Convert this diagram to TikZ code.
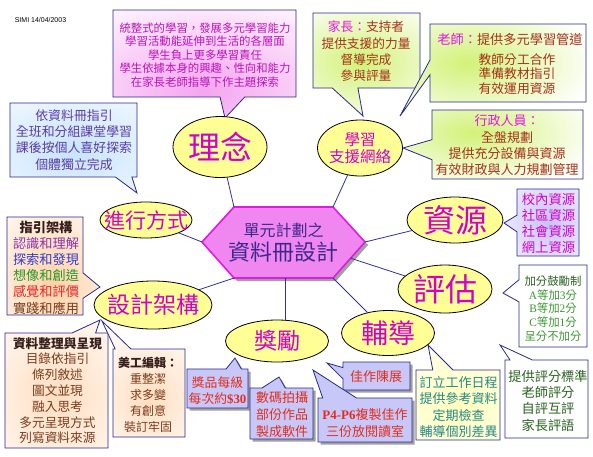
\documentclass[tikz,border=0pt]{standalone}
\usepackage{fontspec}
\setmainfont{Noto Sans CJK TC}
\newfontfamily\serf{Liberation Serif}
\newfontfamily\arialf{Liberation Sans}
\usetikzlibrary{shapes.geometric,calc}
\definecolor{boxline}{RGB}{40,40,140}
\definecolor{connc}{RGB}{50,50,150}
\definecolor{ellfill}{RGB}{255,255,150}
\definecolor{ellfont}{RGB}{210,0,200}
\definecolor{lntxt}{RGB}{185,20,185}
\definecolor{hilite}{RGB}{230,20,230}
\definecolor{brred}{RGB}{165,50,25}
\definecolor{pinkg}{RGB}{245,165,240}
\definecolor{greeng}{RGB}{210,242,120}
\definecolor{lavg}{RGB}{200,195,250}
\definecolor{blueg}{RGB}{200,228,255}
\definecolor{orangeg}{RGB}{255,210,168}
\definecolor{peachg}{RGB}{255,222,192}
\definecolor{yellowg}{RGB}{255,255,190}
\definecolor{lavbox}{RGB}{200,200,248}
\definecolor{redtxt}{RGB}{225,45,30}
\definecolor{tealtxt}{RGB}{40,135,135}
\definecolor{grtxt}{RGB}{60,150,50}
\definecolor{dgrtxt}{RGB}{40,100,30}
\definecolor{bltxt}{RGB}{90,60,165}
\definecolor{brtxt}{RGB}{120,60,30}
\definecolor{darkt}{RGB}{55,30,30}
\definecolor{hexfill}{RGB}{240,135,240}
\definecolor{hexline}{RGB}{225,25,225}
\definecolor{hextxt}{RGB}{60,40,140}
\definecolor{shadowc}{RGB}{160,160,160}
\definecolor{purtxt}{RGB}{140,50,170}
\definecolor{blutxt}{RGB}{50,60,200}
\definecolor{gretxt}{RGB}{40,150,40}
\definecolor{rettxt}{RGB}{225,40,40}
\newcommand\fs[2]{\fontsize{#1}{#2}\selectfont}
\newcommand\callB[5]{\draw[#5] (#1.north west) -- (#1.north east) -- (#1.south east)
  -- ($(#1.south west)!#3!(#1.south east)$) -- (#4) -- ($(#1.south west)!#2!(#1.south east)$)
  -- (#1.south west) -- cycle;}
\newcommand\callT[5]{\draw[#5] (#1.north west) -- ($(#1.north west)!#2!(#1.north east)$) -- (#4)
  -- ($(#1.north west)!#3!(#1.north east)$) -- (#1.north east) -- (#1.south east) -- (#1.south west) -- cycle;}
\newcommand\callL[5]{\draw[#5] (#1.north west) -- (#1.north east) -- (#1.south east) -- (#1.south west)
  -- ($(#1.north west)!#3!(#1.south west)$) -- (#4) -- ($(#1.north west)!#2!(#1.south west)$) -- cycle;}
\newcommand\callR[5]{\draw[#5] (#1.north west) -- (#1.north east) -- ($(#1.north east)!#2!(#1.south east)$)
  -- (#4) -- ($(#1.north east)!#3!(#1.south east)$) -- (#1.south east) -- (#1.south west) -- cycle;}
\tikzset{
  boxn/.style={rectangle, inner sep=0pt, outer sep=0pt},
  cbox/.style={draw=boxline, line width=0.8pt, fill=white, line join=miter},
  lbox/.style={draw=boxline, line width=0.8pt, fill=lavbox},
  shbox/.style={draw=none, fill=shadowc},
  gradfill/.style n args={4}{path picture={\shade[inner color=#1, outer color=white] ($(#2)+(#3)$) ellipse (#4);}},
  ell/.style={ellipse, draw=black, line width=0.8pt, fill=ellfill, inner sep=0pt, text=ellfont},
  txt/.style={align=center, inner sep=0pt},
  conn/.style={draw=connc, line width=0.8pt},
}
\begin{document}
\begin{tikzpicture}[x=1pt,y=-1pt]
\fill[white] (0,0) rectangle (593,456);
\useasboundingbox (0,0) rectangle (593,456);

% pointer tips
\coordinate (t-lb) at (225,118);
\coordinate (t-jb) at (363,116);
\coordinate (t-tb) at (400,116);
\coordinate (t-ab) at (403,148);
\coordinate (t-rb) at (504,223);
\coordinate (t-eb1) at (503,293);
\coordinate (t-eb2) at (500,345);
\coordinate (t-gb) at (428,345);
\coordinate (t-jp1) at (235,358);
\coordinate (t-jp2) at (279,377);
\coordinate (t-jp3) at (327,363);
\coordinate (t-jp4) at (313,370);
\coordinate (t-fb) at (137,193);
\coordinate (t-zb) at (100,287);
\coordinate (t-db) at (100,320);
\coordinate (t-mb) at (102,321);

% box frames
\node[boxn, minimum width=183pt, minimum height=87pt] (lb) at (204.5,53.5) {};
\node[boxn, minimum width=107pt, minimum height=75pt] (jb) at (366.5,50.5) {};
\node[boxn, minimum width=156pt, minimum height=78pt] (tb) at (508,63) {};
\node[boxn, minimum width=151pt, minimum height=69pt] (ab) at (507.5,144.5) {};
\node[boxn, minimum width=62pt, minimum height=67pt] (rb) at (548,222.5) {};
\node[boxn, minimum width=68pt, minimum height=82pt] (eb1) at (553,306) {};
\node[boxn, minimum width=83pt, minimum height=78pt] (eb2) at (546.5,399) {};
\node[boxn, minimum width=84pt, minimum height=70pt] (gb) at (458,405) {};
\node[boxn, minimum width=61pt, minimum height=39pt] (jp1) at (217.5,388.5) {};
\node[boxn, minimum width=63pt, minimum height=51pt] (jp2) at (281.5,413.5) {};
\node[boxn, minimum width=67pt, minimum height=28pt] (jp3) at (376.5,376) {};
\node[boxn, minimum width=94pt, minimum height=44pt] (jp4) at (365,420) {};
\node[boxn, minimum width=127pt, minimum height=74pt] (fb) at (73.5,140) {};
\node[boxn, minimum width=76pt, minimum height=98pt] (zb) at (45,266) {};
\node[boxn, minimum width=103pt, minimum height=115pt] (db) at (56.5,390.5) {};
\node[boxn, minimum width=72pt, minimum height=88pt] (mb) at (149,393) {};

% callouts
\callB{lb}{0.585}{0.72}{t-lb}{cbox, gradfill={pinkg}{lb.center}{0,38}{200pt and 110pt}}
\callB{jb}{0.18}{0.42}{t-jb}{cbox, gradfill={greeng}{jb.center}{-5,12}{110pt and 70pt}}
\callL{tb}{0.46}{0.65}{t-tb}{cbox, gradfill={greeng}{tb.center}{-40,0}{130pt and 70pt}}
\callL{ab}{0.43}{0.72}{t-ab}{cbox, gradfill={greeng}{ab.center}{-35,-12}{130pt and 60pt}}
\callL{rb}{0.39}{0.64}{t-rb}{cbox, gradfill={lavg}{rb.center}{0,0}{70pt and 75pt}}
\callL{eb1}{0.18}{0.45}{t-eb1}{cbox}
\callT{eb2}{0.06}{0.33}{t-eb2}{cbox}
\callT{gb}{0.2}{0.44}{t-gb}{cbox, gradfill={yellowg}{gb.center}{0,0}{120pt and 100pt}}
\begin{scope}[transform canvas={shift={(2.5pt,-2.5pt)}}]
\callT{jp1}{0.64}{0.89}{t-jp1}{shbox}
\callT{jp2}{0.19}{0.56}{t-jp2}{shbox}
\callL{jp3}{0.2}{0.6}{t-jp3}{shbox}
\callT{jp4}{0.05}{0.41}{t-jp4}{shbox}
\end{scope}
\callT{jp1}{0.64}{0.89}{t-jp1}{lbox}
\callT{jp2}{0.19}{0.56}{t-jp2}{lbox}
\callL{jp3}{0.2}{0.6}{t-jp3}{lbox}
\callT{jp4}{0.05}{0.41}{t-jp4}{lbox}
\callB{fb}{0.83}{0.96}{t-fb}{cbox, gradfill={blueg}{fb.center}{0,12}{150pt and 90pt}}
\callR{zb}{0.57}{0.83}{t-zb}{cbox, gradfill={orangeg}{zb.center}{8,18}{90pt and 110pt}}
\callT{db}{0.65}{0.88}{t-db}{cbox, gradfill={peachg}{db.center}{0,5}{110pt and 120pt}}
\callT{mb}{0.03}{0.25}{t-mb}{cbox, gradfill={peachg}{mb.center}{0,5}{80pt and 90pt}}

% hexagon
\coordinate (hxL) at (202,242);
\coordinate (hxTL) at (234,207);
\coordinate (hxTR) at (333,207);
\coordinate (hxR) at (365,242);
\coordinate (hxBR) at (333,278);
\coordinate (hxBL) at (234,278);
\coordinate (hxB) at (285,278);
\coordinate (hxE) at ($(hxR)!0.45!(hxBR)$);
\begin{scope}[transform canvas={shift={(3pt,-3pt)}}]
\fill[shadowc] (hxL) -- (hxTL) -- (hxTR) -- (hxR) -- (hxBR) -- (hxBL) -- cycle;
\end{scope}
\draw[fill=hexfill, draw=hexline, line width=1.6pt] (hxL) -- (hxTL) -- (hxTR) -- (hxR) -- (hxBR) -- (hxBL) -- cycle;
\node[txt, text=hextxt, font=\fs{16}{18}] (hub1) at (283.5,230) {單元計劃之};
\node[txt, text=hextxt, font=\fs{22}{24}] (hub2) at (283.5,252) {資料冊設計};

% ellipses
\node[ell, minimum width=94pt, minimum height=61pt, font=\fs{32}{34}] (lilian) at (220,147) {\makebox[0pt]{理念}};
\node[ell, minimum width=85pt, minimum height=56pt, font=\fs{15.5}{17}, align=center] (xuexi) at (360,148) {\makebox[0pt]{學習}\\\makebox[0pt]{支援網絡}};
\node[ell, minimum width=96pt, minimum height=46pt, font=\fs{32}{34}] (ziyuan) at (455,220) {\makebox[0pt]{資源}};
\node[ell, minimum width=94pt, minimum height=48pt, font=\fs{32}{34}] (pinggu) at (445,289) {\makebox[0pt]{評估}};
\node[ell, minimum width=93pt, minimum height=45pt, font=\fs{27}{30}] (fudao) at (388,333) {\makebox[0pt]{輔導}};
\node[ell, minimum width=103pt, minimum height=42pt, font=\fs{23}{26}] (jiangli) at (277,341) {\makebox[0pt]{獎勵}};
\node[ell, minimum width=118pt, minimum height=48pt, font=\fs{23}{26}] (sheji) at (153,305) {\makebox[0pt]{設計架構}};
\node[ell, minimum width=92pt, minimum height=36pt, font=\fs{21}{24}] (jinxing) at (146,220) {\makebox[0pt]{進行方式}};

% connectors
\draw[conn] (hxTL) -- (lilian);
\draw[conn] (hxTR) -- (xuexi);
\draw[conn] (hxR) -- (ziyuan);
\draw[conn] (hxE) -- (pinggu);
\draw[conn] (hxBR) -- (fudao);
\draw[conn] (hxB) -- (jiangli.north -| hxB);
\draw[conn] (hxBL) -- (sheji);
\draw[conn] (hxL) -- (jinxing);

% texts
\node[font=\arialf\fs{7}{8}, inner sep=0pt] (date) at (40.5,20) {SIMI 14/04/2003};
\node[txt, text=lntxt, font=\fs{11.4}{13.6}] (lbt) at (205,55) {統整式的學習，發展多元學習能力\\學習活動能延伸到生活的各層面\\學生負上更多學習責任\\學生依據本身的興趣、性向和能力\\在家長老師指導下作主題探索};
\node[txt, text=brred, font=\fs{12.7}{16.3}] (jbt) at (366,51.5) {\textcolor{hilite}{家長：}支持者\\提供支援的力量\\督導完成\\參與評量};
\node[txt, text=brred, font=\fs{13.2}{15}] (tbt1) at (510,39) {\textcolor{hilite}{老師：}提供多元學習管道};
\node[txt, text=brred, font=\fs{12.8}{14.5}] (tbt2) at (517,74) {教師分工合作\\準備教材指引\\有效運用資源};
\node[txt, text=brred, font=\fs{13}{16.3}] (abt) at (507,145.5) {\textcolor{hilite}{行政人員：}\\全盤規劃\\提供充分設備與資源\\有效財政與人力規劃管理};
\node[txt, text=ellfont, font=\fs{13.3}{16}] (rbt) at (548.5,223) {校內資源\\社區資源\\社會資源\\網上資源};
\node[txt, text=grtxt, font=\fs{11.4}{13.75}] (eb1t) at (553,308.5) {\textcolor{dgrtxt}{加分鼓勵制}\\{\serf A}等加{\serf 3}分\\{\serf B}等加{\serf 2}分\\{\serf C}等加{\serf 1}分\\呈分不加分};
\node[txt, text=dgrtxt, font=\fs{13.2}{16.3}] (eb2t) at (548,400.5) {提供評分標準\\老師評分\\自評互評\\家長評語};
\node[txt, text=tealtxt, font=\fs{13}{16.3}] (gbt) at (458.5,407) {訂立工作日程\\提供參考資料\\定期檢查\\輔導個別差異};
\node[txt, text=redtxt, font=\fs{12.8}{15.5}] (jp1t) at (217.5,390.5) {獎品每級\\每次約{\serf\bfseries\$30}};
\node[txt, text=redtxt, font=\fs{13}{17}] (jp2t) at (282,415) {數碼拍攝\\部份作品\\製成軟件};
\node[txt, text=redtxt, font=\fs{13}{15}] (jp3t) at (376,377) {佳作陳展};
\node[txt, text=redtxt, font=\fs{13}{17}] (jp4t) at (365,423.5) {{\serf\bfseries P4-P6}複製佳作\\三份放閱讀室};
\node[txt, text=bltxt, font=\fs{12.9}{16.4}] (fbt) at (74,139.75) {依資料冊指引\\全班和分組課堂學習\\課後按個人喜好探索\\個體獨立完成};
\node[txt, font=\fs{13.2}{16.2}] (zbt) at (46,267.5) {{\bfseries\color{darkt}指引架構}\\\textcolor{purtxt}{認識和理解}\\\textcolor{blutxt}{探索和發現}\\\textcolor{gretxt}{想像和創造}\\\textcolor{rettxt}{感覺和評價}\\\textcolor{brtxt}{實踐和應用}};
\node[txt, text=brtxt, font=\fs{12.7}{15.8}] (dbt) at (57.5,390.5) {{\bfseries\color{darkt}資料整理與呈現}\\目錄依指引\\條列敘述\\圖文並現\\融入思考\\多元呈現方式\\列寫資料來源};
\node[txt, text=brtxt, font=\fs{12}{15.9}] (mbt) at (148,395) {{\bfseries\color{darkt}美工編輯：}\\重整潔\\求多變\\有創意\\裝訂牢固};
\end{tikzpicture}
\end{document}
